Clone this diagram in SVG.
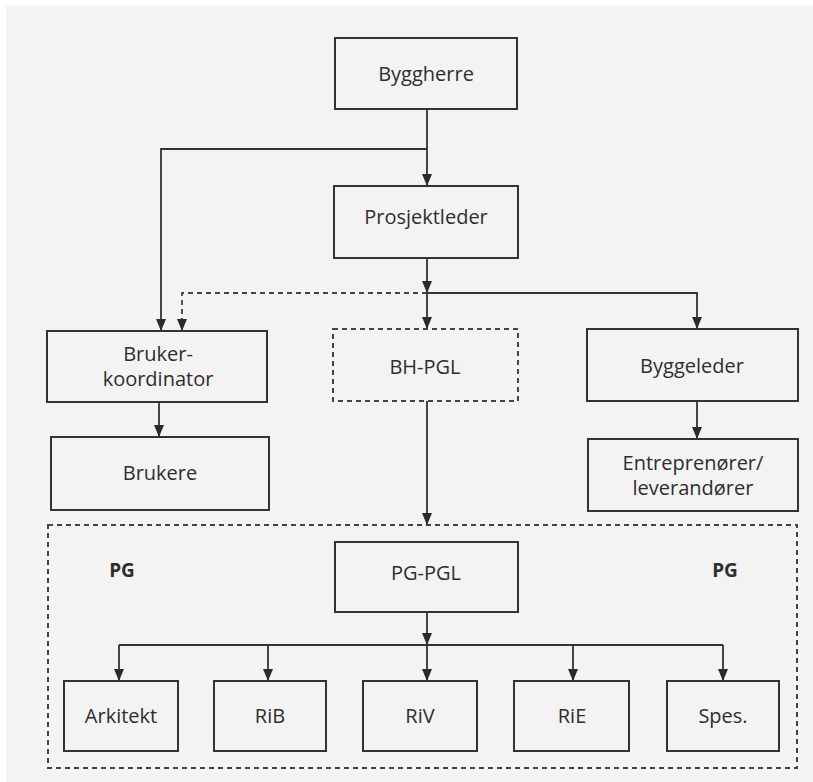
<svg xmlns="http://www.w3.org/2000/svg" width="813" height="782" viewBox="0 0 813 782">
  <defs>
    <marker id="arrow" viewBox="0 0 12 12" refX="12" refY="6" markerWidth="12" markerHeight="12" markerUnits="userSpaceOnUse" orient="auto">
      <path d="M0,1 L12,6 L0,11 Z" fill="#2b2b2b"/>
    </marker>
    <style>
      .box { fill: none; stroke: #333; stroke-width: 2; }
      .dbox { fill: none; stroke: #444; stroke-width: 2; stroke-dasharray: 5 4; }
      .line { fill: none; stroke: #333; stroke-width: 1.8; }
      .dline { fill: none; stroke: #444; stroke-width: 1.8; stroke-dasharray: 5 4; }
      .arr { marker-end: url(#arrow); }
      text { font-family: "Open Sans", "Noto Sans", "Liberation Sans", sans-serif; font-size: 20px; fill: #2e2e2e; text-anchor: middle; dominant-baseline: central; }
      .bold { font-weight: bold; font-size: 19px; }
    </style>
  </defs>

  <rect x="0" y="0" width="813" height="782" fill="#ffffff"/>
  <rect x="6" y="6" width="807" height="776" fill="#f3f3f3"/>

  <!-- project group container -->
  <g id="pg-group">
    <rect class="dbox" x="48" y="525" width="749" height="243"/>
    <text class="bold" x="122" y="570">PG</text>
    <text class="bold" x="725" y="570">PG</text>
  </g>

  <!-- connectors -->
  <g id="connectors">
    <!-- Byggherre to Prosjektleder, with branch to Brukerkoordinator -->
    <path class="line arr" d="M427,109 V186"/>
    <path class="line arr" d="M427,149 H161 V331"/>
    <!-- Prosjektleder down to junction -->
    <path class="line arr" d="M427,258 V293"/>
    <path class="dline arr" d="M427,293 H182 V331"/>
    <path class="line arr" d="M427,293 H697 V329"/>
    <path class="line arr" d="M427,293 V329"/>
    <!-- left and right chains -->
    <path class="line arr" d="M159,402 V437"/>
    <path class="line arr" d="M697,401 V439"/>
    <!-- BH-PGL to PG group -->
    <path class="line arr" d="M427,401 V525"/>
    <!-- PG-PGL to disciplines -->
    <path class="line arr" d="M427,612 V645"/>
    <path class="line" d="M119,645 H723"/>
    <path class="line arr" d="M119,645 V681"/>
    <path class="line arr" d="M268,645 V681"/>
    <path class="line arr" d="M427,645 V681"/>
    <path class="line arr" d="M573,645 V681"/>
    <path class="line arr" d="M723,645 V681"/>
  </g>

  <g id="byggherre">
    <rect class="box" x="335" y="38" width="182" height="71"/>
    <text x="426" y="73">Byggherre</text>
  </g>
  <g id="prosjektleder">
    <rect class="box" x="334" y="186" width="184" height="72"/>
    <text x="426" y="216">Prosjektleder</text>
  </g>
  <g id="brukerkoordinator">
    <rect class="box" x="47" y="331" width="220" height="71"/>
    <text x="158" y="353">Bruker-</text>
    <text x="158" y="378">koordinator</text>
  </g>
  <g id="bh-pgl">
    <rect class="dbox" x="333" y="329" width="185" height="72"/>
    <text x="425" y="366">BH-PGL</text>
  </g>
  <g id="byggeleder">
    <rect class="box" x="587" y="329" width="211" height="72"/>
    <text x="692" y="365">Byggeleder</text>
  </g>
  <g id="brukere">
    <rect class="box" x="51" y="437" width="218" height="73"/>
    <text x="160" y="472">Brukere</text>
  </g>
  <g id="entreprenorer">
    <rect class="box" x="588" y="439" width="210" height="72"/>
    <text x="693" y="462">Entreprenører/</text>
    <text x="693" y="487">leverandører</text>
  </g>
  <g id="pg-pgl">
    <rect class="box" x="335" y="542" width="183" height="70"/>
    <text x="426" y="572">PG-PGL</text>
  </g>
  <g id="arkitekt">
    <rect class="box" x="64" y="681" width="114" height="70"/>
    <text x="121" y="715">Arkitekt</text>
  </g>
  <g id="rib">
    <rect class="box" x="214" y="681" width="112" height="70"/>
    <text x="270" y="715">RiB</text>
  </g>
  <g id="riv">
    <rect class="box" x="363" y="681" width="114" height="70"/>
    <text x="420" y="715">RiV</text>
  </g>
  <g id="rie">
    <rect class="box" x="514" y="681" width="115" height="70"/>
    <text x="572" y="715">RiE</text>
  </g>
  <g id="spes">
    <rect class="box" x="667" y="681" width="112" height="70"/>
    <text x="723" y="715">Spes.</text>
  </g>
</svg>
